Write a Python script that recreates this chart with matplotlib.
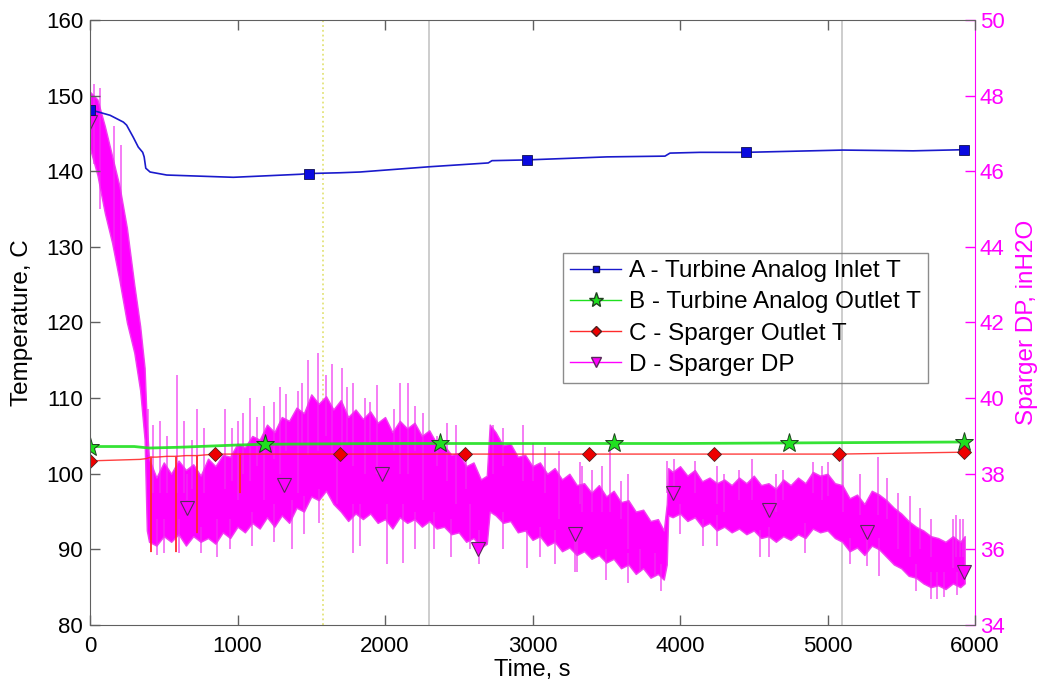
import numpy as np
import matplotlib
matplotlib.use("Agg")
import matplotlib.pyplot as plt
from matplotlib.lines import Line2D

plt.rcParams['font.family'] = ['Liberation Sans', 'DejaVu Sans']

# ---- A: turbine analog inlet temperature (C)
inlet_t = [0, 45, 136, 226, 248, 293, 327, 357, 367, 378, 407, 520, 972, 1424,
           1485, 1695, 1830, 2305, 2700, 2725, 2963, 3505, 3898, 3932, 4135,
           4447, 5105, 5580, 5925]
inlet_T = [148.1, 147.9, 147.4, 146.5, 146.1, 144.5, 143.2, 142.5, 141.9, 140.4,
           139.9, 139.5, 139.2, 139.6, 139.7, 139.8, 139.9, 140.6, 141.1, 141.4,
           141.5, 141.9, 142.0, 142.4, 142.5, 142.5, 142.8, 142.7, 142.85]
inlet_mk_t = [0, 1485, 2963, 4447, 5925]
inlet_mk_T = [148.1, 139.7, 141.5, 142.5, 142.85]

# ---- B: turbine analog outlet temperature (C)
outlet_t = [0, 300, 400, 600, 1000, 1185, 2000, 3000, 4000, 5000, 5925]
outlet_T = [103.6, 103.6, 103.4, 103.5, 103.8, 103.9, 104.0, 104.0, 104.0, 104.1, 104.2]
outlet_mk_t = [0, 1185, 2370, 3555, 4740, 5925]
outlet_mk_T = [103.6, 103.9, 104.0, 104.0, 104.1, 104.2]

# ---- C: sparger outlet temperature (C)
sparger_t = [0, 340, 380, 412, 413, 414, 450, 520, 582, 583, 584, 650, 724, 725,
             726, 846, 1016, 1017, 1018, 1200, 2000, 3000, 4000, 5079, 5925]
sparger_T = [101.7, 101.9, 102.0, 102.2, 89.7, 102.2, 102.2, 102.3, 102.3, 89.7,
             102.3, 102.4, 102.4, 92.2, 102.4, 102.6, 102.6, 97.5, 102.6, 102.6,
             102.6, 102.6, 102.6, 102.6, 102.85]
sparger_mk_t = [0, 846, 1693, 2539, 3386, 4232, 5079, 5925]
sparger_mk_T = [101.7, 102.6, 102.6, 102.6, 102.6, 102.6, 102.6, 102.85]

# ---- D: sparger DP (inH2O), per-column min / max of the raw signal
dp_t = [0, 50, 100, 150, 200, 250, 300, 340, 370, 385, 400, 450, 500, 550, 600,
        650, 700, 750, 800, 850, 900, 950, 1000, 1050, 1100, 1150, 1200, 1250,
        1300, 1350, 1400, 1450, 1500, 1550, 1600, 1650, 1700, 1750, 1800, 1850,
        1900, 1950, 2000, 2050, 2100, 2150, 2200, 2250, 2300, 2350, 2400, 2450,
        2500, 2550, 2600, 2650, 2690, 2710, 2750, 2800, 2850, 2900, 2950, 3000,
        3050, 3100, 3150, 3200, 3250, 3300, 3350, 3400, 3450, 3500, 3550, 3600,
        3650, 3700, 3750, 3800, 3850, 3890, 3910, 3920, 3950, 4000, 4050, 4100,
        4150, 4200, 4250, 4300, 4350, 4400, 4450, 4500, 4550, 4600, 4650, 4700,
        4750, 4800, 4850, 4900, 4950, 5000, 5050, 5100, 5150, 5200, 5250, 5300,
        5350, 5400, 5450, 5500, 5550, 5600, 5650, 5700, 5750, 5800, 5850, 5900,
        5930]
dp_lo = [46.6, 45.9, 44.9, 44.1, 43.1, 42.0, 41.2, 40.2, 38.9, 36.5, 36.2, 36.1,
         36.35, 36.2, 36.4, 36.1, 36.35, 36.2, 36.3, 36.15, 36.45, 36.3, 36.6,
         36.45, 36.7, 36.55, 36.85, 36.6, 36.9, 36.7, 37.1, 37.0, 37.4, 37.3,
         37.55, 37.2, 37.0, 36.75, 36.95, 36.8, 36.95, 36.7, 36.8, 36.55, 36.85,
         36.7, 36.8, 36.6, 36.75, 36.55, 36.6, 36.4, 36.45, 36.2, 36.3, 36.05,
         36.15, 37.0, 36.9, 36.7, 36.75, 36.45, 36.5, 36.25, 36.35, 36.1, 36.2,
         35.95, 36.05, 35.85, 35.95, 35.75, 35.85, 35.65, 35.75, 35.5, 35.6, 35.35,
         35.5, 35.25, 35.35, 35.2, 35.6, 36.9, 36.85, 36.95, 36.75, 36.85, 36.6,
         36.7, 36.5, 36.6, 36.45, 36.55, 36.4, 36.5, 36.3, 36.35, 36.2, 36.35,
         36.25, 36.4, 36.3, 36.55, 36.45, 36.5, 36.3, 36.2, 35.95, 36.05, 35.85,
         36.1, 36.0, 35.8, 35.6, 35.5, 35.3, 35.25, 35.1, 35.0, 35.05, 34.95, 35.1,
         35.0, 35.1]
dp_hi = [48.1, 47.9, 47.2, 46.4, 45.6, 44.5, 43.0, 41.9, 40.8, 39.3, 38.4, 37.9,
         38.3, 38.0, 38.35, 38.1, 38.25, 37.95, 38.4, 38.2, 38.5, 38.45, 38.8,
         38.7, 39.0, 38.9, 39.3, 39.1, 39.5, 39.4, 39.75, 39.6, 40.1, 39.85,
         40.05, 39.7, 39.95, 39.5, 39.7, 39.45, 39.65, 39.35, 39.5, 39.1, 39.4,
         39.2, 39.35, 39.0, 39.15, 38.8, 38.75, 38.5, 38.55, 38.2, 38.3, 37.85,
         37.95, 39.3, 39.1, 38.75, 38.8, 38.45, 38.5, 38.2, 38.3, 38.0, 38.15,
         37.85, 38.0, 37.7, 37.75, 37.5, 37.7, 37.4, 37.55, 37.25, 37.3, 37.0,
         37.05, 36.75, 36.8, 36.5, 37.2, 38.15, 38.05, 38.2, 37.95, 38.1, 37.8,
         37.9, 37.75, 37.85, 37.7, 37.9, 37.75, 37.95, 37.7, 37.75, 37.6, 37.85,
         37.7, 37.9, 37.75, 38.05, 37.95, 38.0, 37.75, 37.7, 37.35, 37.45, 37.2,
         37.55, 37.45, 37.3, 37.1, 36.95, 36.75, 36.6, 36.5, 36.35, 36.3, 36.2,
         36.35, 36.2, 36.35]

# isolated excursions of the DP signal beyond the dense band
spike_t = [30, 70, 160, 210, 393, 430, 454, 475, 500, 520, 588, 600, 640, 660,
           690, 724, 750, 770, 861, 915, 950, 960, 1000, 1040, 1085, 1100, 1130,
           1180, 1250, 1250, 1288, 1330, 1369, 1410, 1440, 1450, 1478, 1546, 1550,
           1600, 1640, 1675, 1708, 1740, 1783, 1785, 1830, 1864, 1900, 1946, 2013,
           2060, 2102, 2124, 2156, 2200, 2200, 2260, 2330, 2350, 2420, 2450, 2480,
           2550, 2576, 2640, 2732, 2800, 2800, 2935, 2961, 3000, 3050, 3085, 3150,
           3180, 3288, 3300, 3322, 3336, 3400, 3471, 3500, 3525, 3600, 3650, 3650,
           3729, 3831, 3870, 3910, 3960, 4000, 4102, 4156, 4250, 4250, 4300, 4400,
           4488, 4542, 4600, 4650, 4700, 4850, 4900, 4962, 5000, 5107, 5150, 5220,
           5267, 5342, 5350, 5400, 5480, 5560, 5600, 5627, 5700, 5700, 5742, 5790,
           5850, 5870, 5880, 5898, 5920]
spike_lo = [46.2, 45.0, 44.0, 43.0, 38.5, 37.5, 35.85, 37.5, 35.9, 37.5, 37.5,
            35.9, 37.5, 37.3, 37.6, 37.5, 35.9, 37.5, 35.8, 37.6, 36.0, 37.8, 37.3,
            38.0, 37.8, 36.1, 38.2, 37.3, 38.4, 36.2, 38.0, 38.6, 36.0, 37.5, 38.8,
            36.4, 38.5, 38.6, 36.7, 39.0, 38.5, 37.2, 38.5, 38.8, 38.2, 35.9, 36.1,
            38.0, 38.8, 38.0, 35.6, 38.6, 38.0, 35.65, 38.0, 38.6, 36.0, 37.3, 36.0,
            38.2, 37.8, 35.8, 37.2, 37.6, 36.0, 35.6, 38.0, 38.2, 36.0, 37.8, 35.5,
            37.8, 35.8, 37.5, 35.6, 36.8, 35.4, 35.4, 37.2, 37.0, 37.0, 37.0, 35.2,
            37.0, 36.8, 35.1, 36.0, 35.4, 35.3, 34.9, 37.5, 37.5, 36.4, 37.5, 36.1,
            37.2, 36.1, 37.0, 37.3, 37.3, 35.8, 35.8, 37.0, 37.3, 35.9, 37.5, 37.3,
            37.4, 37.0, 35.6, 36.9, 35.55, 36.9, 35.3, 36.8, 36.0, 35.8, 34.9, 36.0,
            35.8, 34.7, 34.7, 34.75, 35.5, 35.8, 34.8, 35.8, 35.8]
spike_hi = [48.3, 48.2, 47.2, 46.7, 39.7, 39.3, 36.8, 39.4, 36.8, 39.0, 40.6,
            36.8, 39.4, 38.0, 38.9, 39.7, 36.6, 39.2, 36.8, 39.7, 36.8, 39.2, 39.4,
            39.6, 40.0, 37.0, 39.5, 39.8, 39.9, 37.2, 40.3, 40.1, 37.3, 40.2, 40.4,
            37.4, 41.0, 41.2, 37.6, 40.6, 40.9, 38.4, 40.8, 40.3, 40.4, 37.2, 37.2,
            40.0, 39.9, 40.35, 37.2, 39.7, 40.4, 37.2, 40.4, 39.8, 37.0, 39.6, 37.0,
            39.0, 39.35, 36.8, 39.3, 38.6, 37.2, 36.5, 39.3, 39.2, 37.0, 39.3, 36.5,
            38.8, 36.6, 38.7, 36.5, 38.6, 36.5, 36.5, 38.3, 38.2, 38.1, 38.2, 36.0,
            38.6, 37.8, 35.9, 38.0, 36.0, 35.9, 35.6, 38.35, 38.4, 37.2, 38.35, 36.8,
            38.2, 36.9, 38.0, 38.1, 38.4, 36.5, 36.6, 38.0, 38.1, 36.7, 38.3, 38.2,
            38.3, 38.55, 36.3, 38.0, 36.5, 38.45, 36.3, 37.9, 37.5, 37.4, 35.6, 37.1,
            36.8, 35.4, 35.4, 35.4, 36.8, 36.9, 35.4, 36.8, 36.8]
dp_mk_t = [0, 658, 1315, 1978, 2633, 3288, 3953, 4603, 5267, 5925]
dp_mk_v = [47.3, 37.1, 37.7, 38.0, 36.0, 36.4, 37.5, 37.05, 36.45, 35.4]

# event markers along the time axis
event_t = [1580, 2300, 5100]
event_color = ['#e3e37a', '#c9c9c9', '#c9c9c9']
event_style = [':', '-', '-']

labels = ['A - Turbine Analog Inlet T', 'B - Turbine Analog Outlet T',
          'C - Sparger Outlet T', 'D - Sparger DP']

BLUE = '#1a1acc'
GREEN = '#1fe01f'
RED = '#ff2a2a'
MAG = '#ff00ff'
AXC = '#606060'

fig = plt.figure(figsize=(10.42, 6.85), dpi=100)
ax = fig.add_axes([0.0864, 0.0876, 0.8493, 0.8832])
ax2 = ax.twinx()
ax.set_zorder(ax2.get_zorder() + 1)
ax.patch.set_visible(False)

# right axis: DP band, excursions, markers, event lines
for x, c, s in zip(event_t, event_color, event_style):
    ax2.axvline(x, color=c, ls=s, lw=1.3, zorder=1)
ax2.fill_between(dp_t, dp_lo, dp_hi, facecolor=MAG, edgecolor='#f040f0', lw=1.0,
                 zorder=2)
ax2.vlines(spike_t, spike_lo, spike_hi, color='#f030f0', lw=1.1, alpha=0.8, zorder=2)
ax2.plot(dp_mk_t, dp_mk_v, ls='none', marker='v', ms=10, mfc=MAG, mec='#5a2a5a',
         mew=0.8, zorder=4)

# left axis: temperatures
ax.plot(inlet_t, inlet_T, color=BLUE, lw=1.2)
ax.plot(inlet_mk_t, inlet_mk_T, ls='none', marker='s', ms=7, mfc='#0a0ae0',
        mec='#101050', mew=0.6)
ax.plot(outlet_t, outlet_T, color=GREEN, lw=2.0, alpha=0.9)
ax.plot(outlet_mk_t, outlet_mk_T, ls='none', marker='*', ms=14, mfc=GREEN,
        mec='#204020', mew=0.7)
ax.plot(sparger_t, sparger_T, color=RED, lw=1.0, alpha=0.9)
ax.plot(sparger_mk_t, sparger_mk_T, ls='none', marker='D', ms=7, mfc='#ee0000',
        mec='#502020', mew=0.6)

ax.set_xlim(0, 6000)
ax.set_ylim(80, 160)
ax2.set_ylim(34, 50)
ax.set_xticks(np.arange(0, 6001, 1000))
ax.set_yticks(np.arange(80, 161, 10))
ax2.set_yticks(np.arange(34, 51, 2))

ax.tick_params(direction='in', length=7, width=1, top=True, right=False,
               color=AXC, labelcolor='black', labelsize=16)
ax.tick_params(axis='x', pad=8)
ax.tick_params(axis='y', pad=5)
ax2.tick_params(direction='in', length=7, width=1, colors=MAG, labelsize=16, pad=3.5)
for s in ['left', 'top', 'bottom']:
    ax.spines[s].set_color(AXC)
ax.spines['right'].set_visible(False)
for s in ['left', 'top', 'bottom']:
    ax2.spines[s].set_visible(False)
ax2.spines['right'].set_color(MAG)

ax.set_xlabel('Time, s', fontsize=17)
ax.xaxis.set_label_coords(0.5, -0.057)
ax.set_ylabel('Temperature, C', fontsize=17.5)
ax.yaxis.set_label_coords(-0.065, 0.5)
ax2.set_ylabel('Sparger DP, inH2O', fontsize=17.5, color=MAG)
ax2.yaxis.set_label_coords(1.046, 0.5)

handles = [
    Line2D([], [], color=BLUE, lw=1, marker='s', ms=5, mfc='#0a0ae0', mec='#101050'),
    Line2D([], [], color=GREEN, lw=1, marker='*', ms=11, mfc=GREEN, mec='#204020'),
    Line2D([], [], color=RED, lw=1, marker='D', ms=5, mfc='#ee0000', mec='#502020'),
    Line2D([], [], color=MAG, lw=1, marker='v', ms=7, mfc=MAG, mec='#5a2a5a'),
]
leg = ax.legend(handles, labels, loc='upper left', bbox_to_anchor=(0.5345, 0.615),
                fontsize=17.5, frameon=True, fancybox=False, facecolor='none',
                edgecolor='#707070', handlelength=2.1, handletextpad=0.3,
                labelspacing=0.38, borderpad=0.3, borderaxespad=0)
leg.get_frame().set_linewidth(1.0)

fig.savefig('out.png', dpi=100)
